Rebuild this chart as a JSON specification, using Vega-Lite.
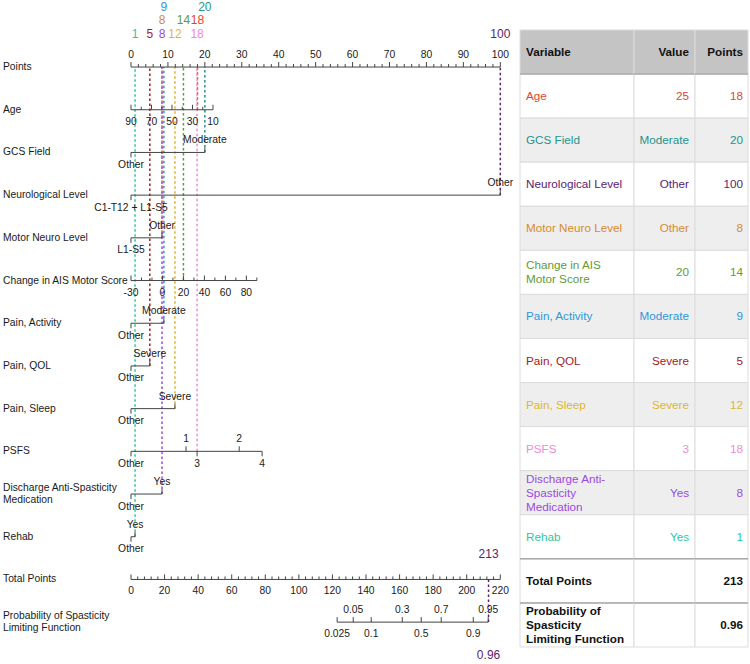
{
"$schema": "https://vega.github.io/schema/vega-lite/v6.json",
"padding": 0,
"bounds": "flush",
"spacing": 5,
"config": {"view": {"stroke": null}, "font": "Liberation Sans"},
"datasets": {
"rowlabels": [
{"row":"Points","label":"Points"},{"row":"Age","label":"Age"},{"row":"GCS Field","label":"GCS Field"},{"row":"Neurological Level","label":"Neurological Level"},{"row":"Motor Neuro Level","label":"Motor Neuro Level"},{"row":"Change in AIS Motor Score","label":"Change in AIS Motor Score"},{"row":"Pain, Activity","label":"Pain, Activity"},{"row":"Pain, QOL","label":"Pain, QOL"},{"row":"Pain, Sleep","label":"Pain, Sleep"},{"row":"PSFS","label":"PSFS"},{"row":"Discharge Anti-Spasticity Medication","label":"Discharge Anti-Spasticity\nMedication"},{"row":"Rehab","label":"Rehab"},{"row":"Total Points","label":"Total Points"},{"row":"Probability of Spasticity Limiting Function","label":"Probability of Spasticity\nLimiting Function"}],
"tab": [
{"idx":0,"variable":"Variable","label":"Variable","value":"Value","points":"Points"},
{"idx":1,"variable":"Age","label":"Age","value":"25","points":"18","pts":18.0,"tier":2},
{"idx":2,"variable":"GCS Field","label":"GCS Field","value":"Moderate","points":"20","pts":20.0,"tier":3},
{"idx":3,"variable":"Neurological Level","label":"Neurological Level","value":"Other","points":"100","pts":100,"tier":1},
{"idx":4,"variable":"Motor Neuro Level","label":"Motor Neuro Level","value":"Other","points":"8","pts":8.4,"tier":2},
{"idx":5,"variable":"Change in AIS Motor Score","label":"Change in AIS\nMotor Score","value":"20","points":"14","pts":14.2,"tier":2},
{"idx":6,"variable":"Pain, Activity","label":"Pain, Activity","value":"Moderate","points":"9","pts":8.9,"tier":3},
{"idx":7,"variable":"Pain, QOL","label":"Pain, QOL","value":"Severe","points":"5","pts":5.1,"tier":1},
{"idx":8,"variable":"Pain, Sleep","label":"Pain, Sleep","value":"Severe","points":"12","pts":11.9,"tier":1},
{"idx":9,"variable":"PSFS","label":"PSFS","value":"3","points":"18","pts":17.9,"tier":1},
{"idx":10,"variable":"Discharge Anti-Spasticity Medication","label":"Discharge Anti-\nSpasticity\nMedication","value":"Yes","points":"8","pts":8.4,"tier":1},
{"idx":11,"variable":"Rehab","label":"Rehab","value":"Yes","points":"1","pts":1.1,"tier":1},
{"idx":12,"variable":"Total Points","label":"Total Points","value":"","points":"213"},
{"idx":13,"variable":"Probability of Spasticity Limiting Function","label":"Probability of\nSpasticity\nLimiting Function","value":"","points":"0.96"}],
"result": [{"total":213,"prob":"0.96"}],
"ticks": [
{"row":"Points","pts":0,"label":"0","side":"top"},{"row":"Points","pts":2,"label":""},{"row":"Points","pts":4,"label":""},{"row":"Points","pts":6,"label":""},{"row":"Points","pts":8,"label":""},
{"row":"Points","pts":10,"label":"10","side":"top"},{"row":"Points","pts":12,"label":""},{"row":"Points","pts":14,"label":""},{"row":"Points","pts":16,"label":""},{"row":"Points","pts":18,"label":""},
{"row":"Points","pts":20,"label":"20","side":"top"},{"row":"Points","pts":22,"label":""},{"row":"Points","pts":24,"label":""},{"row":"Points","pts":26,"label":""},{"row":"Points","pts":28,"label":""},
{"row":"Points","pts":30,"label":"30","side":"top"},{"row":"Points","pts":32,"label":""},{"row":"Points","pts":34,"label":""},{"row":"Points","pts":36,"label":""},{"row":"Points","pts":38,"label":""},
{"row":"Points","pts":40,"label":"40","side":"top"},{"row":"Points","pts":42,"label":""},{"row":"Points","pts":44,"label":""},{"row":"Points","pts":46,"label":""},{"row":"Points","pts":48,"label":""},
{"row":"Points","pts":50,"label":"50","side":"top"},{"row":"Points","pts":52,"label":""},{"row":"Points","pts":54,"label":""},{"row":"Points","pts":56,"label":""},{"row":"Points","pts":58,"label":""},
{"row":"Points","pts":60,"label":"60","side":"top"},{"row":"Points","pts":62,"label":""},{"row":"Points","pts":64,"label":""},{"row":"Points","pts":66,"label":""},{"row":"Points","pts":68,"label":""},
{"row":"Points","pts":70,"label":"70","side":"top"},{"row":"Points","pts":72,"label":""},{"row":"Points","pts":74,"label":""},{"row":"Points","pts":76,"label":""},{"row":"Points","pts":78,"label":""},
{"row":"Points","pts":80,"label":"80","side":"top"},{"row":"Points","pts":82,"label":""},{"row":"Points","pts":84,"label":""},{"row":"Points","pts":86,"label":""},{"row":"Points","pts":88,"label":""},
{"row":"Points","pts":90,"label":"90","side":"top"},{"row":"Points","pts":92,"label":""},{"row":"Points","pts":94,"label":""},{"row":"Points","pts":96,"label":""},{"row":"Points","pts":98,"label":""},
{"row":"Points","pts":100,"label":"100","side":"top"},
{"row":"Age","pts":0,"label":"90","side":"bottom"},{"row":"Age","pts":2.78,"label":""},{"row":"Age","pts":5.55,"label":"70","side":"bottom"},{"row":"Age","pts":8.33,"label":""},{"row":"Age","pts":11.1,"label":"50","side":"bottom"},{"row":"Age","pts":13.88,"label":""},{"row":"Age","pts":16.65,"label":"30","side":"bottom"},{"row":"Age","pts":19.43,"label":""},{"row":"Age","pts":22.2,"label":"10","side":"bottom"},
{"row":"GCS Field","pts":0,"label":"Other","side":"bottom"},{"row":"GCS Field","pts":20,"label":"Moderate","side":"top"},
{"row":"Neurological Level","pts":0,"label":"C1-T12 + L1-S5","side":"bottom"},{"row":"Neurological Level","pts":100,"label":"Other","side":"top"},
{"row":"Motor Neuro Level","pts":0,"label":"L1-S5","side":"bottom"},{"row":"Motor Neuro Level","pts":8.4,"label":"Other","side":"top"},
{"row":"Change in AIS Motor Score","pts":0,"label":"-30","side":"bottom"},{"row":"Change in AIS Motor Score","pts":2.84,"label":""},{"row":"Change in AIS Motor Score","pts":5.68,"label":""},{"row":"Change in AIS Motor Score","pts":8.52,"label":"0","side":"bottom"},{"row":"Change in AIS Motor Score","pts":11.36,"label":""},{"row":"Change in AIS Motor Score","pts":14.2,"label":"20","side":"bottom"},{"row":"Change in AIS Motor Score","pts":17.04,"label":""},{"row":"Change in AIS Motor Score","pts":19.88,"label":"40","side":"bottom"},{"row":"Change in AIS Motor Score","pts":22.72,"label":""},{"row":"Change in AIS Motor Score","pts":25.56,"label":"60","side":"bottom"},{"row":"Change in AIS Motor Score","pts":28.4,"label":""},{"row":"Change in AIS Motor Score","pts":31.24,"label":"80","side":"bottom"},{"row":"Change in AIS Motor Score","pts":34.08,"label":""},
{"row":"Pain, Activity","pts":0,"label":"Other","side":"bottom"},{"row":"Pain, Activity","pts":8.9,"label":"Moderate","side":"top"},
{"row":"Pain, QOL","pts":0,"label":"Other","side":"bottom"},{"row":"Pain, QOL","pts":5.1,"label":"Severe","side":"top"},
{"row":"Pain, Sleep","pts":0,"label":"Other","side":"bottom"},{"row":"Pain, Sleep","pts":11.9,"label":"Severe","side":"top"},
{"row":"PSFS","pts":0,"label":"Other","side":"bottom"},{"row":"PSFS","pts":14.9,"label":"1","side":"top"},{"row":"PSFS","pts":17.9,"label":"3","side":"bottom"},{"row":"PSFS","pts":29.3,"label":"2","side":"top"},{"row":"PSFS","pts":35.5,"label":"4","side":"bottom"},
{"row":"Discharge Anti-Spasticity Medication","pts":0,"label":"Other","side":"bottom"},{"row":"Discharge Anti-Spasticity Medication","pts":8.4,"label":"Yes","side":"top"},
{"row":"Rehab","pts":0,"label":"Other","side":"bottom"},{"row":"Rehab","pts":1.1,"label":"Yes","side":"top"}],
"tticks": [
{"row":"Total Points","total":0,"label":"0","side":"bottom"},{"row":"Total Points","total":4,"label":""},{"row":"Total Points","total":8,"label":""},{"row":"Total Points","total":12,"label":""},{"row":"Total Points","total":16,"label":""},
{"row":"Total Points","total":20,"label":"20","side":"bottom"},{"row":"Total Points","total":24,"label":""},{"row":"Total Points","total":28,"label":""},{"row":"Total Points","total":32,"label":""},{"row":"Total Points","total":36,"label":""},
{"row":"Total Points","total":40,"label":"40","side":"bottom"},{"row":"Total Points","total":44,"label":""},{"row":"Total Points","total":48,"label":""},{"row":"Total Points","total":52,"label":""},{"row":"Total Points","total":56,"label":""},
{"row":"Total Points","total":60,"label":"60","side":"bottom"},{"row":"Total Points","total":64,"label":""},{"row":"Total Points","total":68,"label":""},{"row":"Total Points","total":72,"label":""},{"row":"Total Points","total":76,"label":""},
{"row":"Total Points","total":80,"label":"80","side":"bottom"},{"row":"Total Points","total":84,"label":""},{"row":"Total Points","total":88,"label":""},{"row":"Total Points","total":92,"label":""},{"row":"Total Points","total":96,"label":""},
{"row":"Total Points","total":100,"label":"100","side":"bottom"},{"row":"Total Points","total":104,"label":""},{"row":"Total Points","total":108,"label":""},{"row":"Total Points","total":112,"label":""},{"row":"Total Points","total":116,"label":""},
{"row":"Total Points","total":120,"label":"120","side":"bottom"},{"row":"Total Points","total":124,"label":""},{"row":"Total Points","total":128,"label":""},{"row":"Total Points","total":132,"label":""},{"row":"Total Points","total":136,"label":""},
{"row":"Total Points","total":140,"label":"140","side":"bottom"},{"row":"Total Points","total":144,"label":""},{"row":"Total Points","total":148,"label":""},{"row":"Total Points","total":152,"label":""},{"row":"Total Points","total":156,"label":""},
{"row":"Total Points","total":160,"label":"160","side":"bottom"},{"row":"Total Points","total":164,"label":""},{"row":"Total Points","total":168,"label":""},{"row":"Total Points","total":172,"label":""},{"row":"Total Points","total":176,"label":""},
{"row":"Total Points","total":180,"label":"180","side":"bottom"},{"row":"Total Points","total":184,"label":""},{"row":"Total Points","total":188,"label":""},{"row":"Total Points","total":192,"label":""},{"row":"Total Points","total":196,"label":""},
{"row":"Total Points","total":200,"label":"200","side":"bottom"},{"row":"Total Points","total":204,"label":""},{"row":"Total Points","total":208,"label":""},{"row":"Total Points","total":212,"label":""},{"row":"Total Points","total":216,"label":""},
{"row":"Total Points","total":220,"label":"220","side":"bottom"},
{"row":"Probability of Spasticity Limiting Function","total":122.8,"label":"0.025","side":"bottom"},
{"row":"Probability of Spasticity Limiting Function","total":132.4,"label":"0.05","side":"top"},
{"row":"Probability of Spasticity Limiting Function","total":143.1,"label":"0.1","side":"bottom"},
{"row":"Probability of Spasticity Limiting Function","total":161.6,"label":"0.3","side":"top"},
{"row":"Probability of Spasticity Limiting Function","total":172.9,"label":"0.5","side":"bottom"},
{"row":"Probability of Spasticity Limiting Function","total":184.8,"label":"0.7","side":"top"},
{"row":"Probability of Spasticity Limiting Function","total":203.9,"label":"0.9","side":"bottom"},
{"row":"Probability of Spasticity Limiting Function","total":212.8,"label":"0.95","side":"top"}]
},
"hconcat": [
{
"width": 515, "height": 640.5,
"resolve": {"scale": {"x": "independent"}},
"layer": [
{"data":{"name":"rowlabels"},"transform":[{"filter":"indexof(datum.label, '\\n') < 0"}],"mark":{"type":"text","align":"left","baseline":"middle","dx":3,"fontSize":10.3,"color":"#1a1a1a"},
 "encoding":{"x":{"datum":-35.47,"type":"quantitative","scale":{"domain":[-35.47,103.98],"nice":false,"zero":false},"axis":null},
 "y":{"field":"row","type":"nominal","scale":{"type":"point","domain":["Points","Age","GCS Field","Neurological Level","Motor Neuro Level","Change in AIS Motor Score","Pain, Activity","Pain, QOL","Pain, Sleep","PSFS","Discharge Anti-Spasticity Medication","Rehab","Total Points","Probability of Spasticity Limiting Function"],"padding":1,"align":0.785},"axis":null},
 "text":{"field":"label"}}},
{"data":{"name":"rowlabels"},"transform":[{"filter":"indexof(datum.label, '\\n') >= 0"}],"mark":{"type":"text","align":"left","baseline":"middle","dx":3,"dy":-6,"fontSize":10.3,"lineBreak":"\n","lineHeight":12,"color":"#1a1a1a"},
 "encoding":{"x":{"datum":-35.47,"type":"quantitative","scale":{"domain":[-35.47,103.98],"nice":false,"zero":false},"axis":null},
 "y":{"field":"row","type":"nominal","scale":{"type":"point","domain":["Points","Age","GCS Field","Neurological Level","Motor Neuro Level","Change in AIS Motor Score","Pain, Activity","Pain, QOL","Pain, Sleep","PSFS","Discharge Anti-Spasticity Medication","Rehab","Total Points","Probability of Spasticity Limiting Function"],"padding":1,"align":0.785},"axis":null},
 "text":{"field":"label"}}},
{"data":{"name":"tab"},"transform":[{"filter":"datum.pts != null"}],"mark":{"type":"rule","strokeDash":[2.5,2.5],"strokeWidth":1.5},
 "encoding":{"x":{"field":"pts","type":"quantitative","scale":{"domain":[-35.47,103.98],"nice":false,"zero":false},"axis":null},
 "y":{"field":"variable","type":"nominal","scale":{"type":"point","domain":["Points","Age","GCS Field","Neurological Level","Motor Neuro Level","Change in AIS Motor Score","Pain, Activity","Pain, QOL","Pain, Sleep","PSFS","Discharge Anti-Spasticity Medication","Rehab","Total Points","Probability of Spasticity Limiting Function"],"padding":1,"align":0.785},"axis":null},
 "y2":{"datum":"Points"},
 "color":{"field":"variable","type":"nominal","scale":{"domain":["Age","GCS Field","Neurological Level","Motor Neuro Level","Change in AIS Motor Score","Pain, Activity","Pain, QOL","Pain, Sleep","PSFS","Discharge Anti-Spasticity Medication","Rehab"],"range":["#E2452F","#23948E","#5A2372","#D88B2F","#5F9B37","#2F97DB","#A3201F","#DDB632","#EE8CD6","#9A4AE2","#2DC8A2"]},"legend":null}}},
{"data":{"name":"ticks"},"mark":{"type":"rule","color":"#444444","strokeWidth":1},
 "encoding":{"x":{"aggregate":"min","field":"pts","type":"quantitative","scale":{"domain":[-35.47,103.98],"nice":false,"zero":false},"axis":null},
 "x2":{"aggregate":"max","field":"pts"},
 "y":{"field":"row","type":"nominal","scale":{"type":"point","domain":["Points","Age","GCS Field","Neurological Level","Motor Neuro Level","Change in AIS Motor Score","Pain, Activity","Pain, QOL","Pain, Sleep","PSFS","Discharge Anti-Spasticity Medication","Rehab","Total Points","Probability of Spasticity Limiting Function"],"padding":1,"align":0.785},"axis":null}}},
{"data":{"name":"ticks"},"transform":[{"filter":"datum.label != '' && (datum.side == 'top' || indexof(['Points','Age','Change in AIS Motor Score'], datum.row) >= 0)"}],
 "mark":{"type":"point","shape":"M0,0L0,-2","size":25,"filled":false,"color":"#444444","strokeWidth":1,"opacity":1},
 "encoding":{"x":{"field":"pts","type":"quantitative","scale":{"domain":[-35.47,103.98],"nice":false,"zero":false},"axis":null},
 "y":{"field":"row","type":"nominal","scale":{"type":"point","domain":["Points","Age","GCS Field","Neurological Level","Motor Neuro Level","Change in AIS Motor Score","Pain, Activity","Pain, QOL","Pain, Sleep","PSFS","Discharge Anti-Spasticity Medication","Rehab","Total Points","Probability of Spasticity Limiting Function"],"padding":1,"align":0.785},"axis":null}}},
{"data":{"name":"ticks"},"transform":[{"filter":"datum.label != '' && datum.side == 'bottom' && indexof(['Points','Age','Change in AIS Motor Score'], datum.row) < 0"}],
 "mark":{"type":"point","shape":"M0,0L0,2","size":25,"filled":false,"color":"#444444","strokeWidth":1,"opacity":1},
 "encoding":{"x":{"field":"pts","type":"quantitative","scale":{"domain":[-35.47,103.98],"nice":false,"zero":false},"axis":null},
 "y":{"field":"row","type":"nominal","scale":{"type":"point","domain":["Points","Age","GCS Field","Neurological Level","Motor Neuro Level","Change in AIS Motor Score","Pain, Activity","Pain, QOL","Pain, Sleep","PSFS","Discharge Anti-Spasticity Medication","Rehab","Total Points","Probability of Spasticity Limiting Function"],"padding":1,"align":0.785},"axis":null}}},
{"data":{"name":"ticks"},"transform":[{"filter":"datum.label == ''"}],
 "mark":{"type":"point","shape":"M0,0L0,-2","size":9,"filled":false,"color":"#444444","strokeWidth":1,"opacity":1},
 "encoding":{"x":{"field":"pts","type":"quantitative","scale":{"domain":[-35.47,103.98],"nice":false,"zero":false},"axis":null},
 "y":{"field":"row","type":"nominal","scale":{"type":"point","domain":["Points","Age","GCS Field","Neurological Level","Motor Neuro Level","Change in AIS Motor Score","Pain, Activity","Pain, QOL","Pain, Sleep","PSFS","Discharge Anti-Spasticity Medication","Rehab","Total Points","Probability of Spasticity Limiting Function"],"padding":1,"align":0.785},"axis":null}}},
{"data":{"name":"ticks"},"transform":[{"filter":"datum.label != '' && datum.side == 'top'"}],
 "mark":{"type":"text","baseline":"middle","dy":-12,"fontSize":10.3,"color":"#1a1a1a"},
 "encoding":{"x":{"field":"pts","type":"quantitative","scale":{"domain":[-35.47,103.98],"nice":false,"zero":false},"axis":null},
 "y":{"field":"row","type":"nominal","scale":{"type":"point","domain":["Points","Age","GCS Field","Neurological Level","Motor Neuro Level","Change in AIS Motor Score","Pain, Activity","Pain, QOL","Pain, Sleep","PSFS","Discharge Anti-Spasticity Medication","Rehab","Total Points","Probability of Spasticity Limiting Function"],"padding":1,"align":0.785},"axis":null},
 "text":{"field":"label"}}},
{"data":{"name":"ticks"},"transform":[{"filter":"datum.label != '' && datum.side == 'bottom'"}],
 "mark":{"type":"text","baseline":"middle","dy":12.5,"fontSize":10.3,"color":"#1a1a1a"},
 "encoding":{"x":{"field":"pts","type":"quantitative","scale":{"domain":[-35.47,103.98],"nice":false,"zero":false},"axis":null},
 "y":{"field":"row","type":"nominal","scale":{"type":"point","domain":["Points","Age","GCS Field","Neurological Level","Motor Neuro Level","Change in AIS Motor Score","Pain, Activity","Pain, QOL","Pain, Sleep","PSFS","Discharge Anti-Spasticity Medication","Rehab","Total Points","Probability of Spasticity Limiting Function"],"padding":1,"align":0.785},"axis":null},
 "text":{"field":"label"}}},
{"data":{"name":"tticks"},"mark":{"type":"rule","color":"#444444","strokeWidth":1},
 "encoding":{"x":{"aggregate":"min","field":"total","type":"quantitative","scale":{"domain":[-78.04,228.76],"nice":false,"zero":false},"axis":null},
 "x2":{"aggregate":"max","field":"total"},
 "y":{"field":"row","type":"nominal","scale":{"type":"point","domain":["Points","Age","GCS Field","Neurological Level","Motor Neuro Level","Change in AIS Motor Score","Pain, Activity","Pain, QOL","Pain, Sleep","PSFS","Discharge Anti-Spasticity Medication","Rehab","Total Points","Probability of Spasticity Limiting Function"],"padding":1,"align":0.785},"axis":null}}},
{"data":{"name":"tticks"},"transform":[{"filter":"datum.label != ''"}],
 "mark":{"type":"point","shape":"M0,0L0,-2","size":25,"filled":false,"color":"#444444","strokeWidth":1,"opacity":1},
 "encoding":{"x":{"field":"total","type":"quantitative","scale":{"domain":[-78.04,228.76],"nice":false,"zero":false},"axis":null},
 "y":{"field":"row","type":"nominal","scale":{"type":"point","domain":["Points","Age","GCS Field","Neurological Level","Motor Neuro Level","Change in AIS Motor Score","Pain, Activity","Pain, QOL","Pain, Sleep","PSFS","Discharge Anti-Spasticity Medication","Rehab","Total Points","Probability of Spasticity Limiting Function"],"padding":1,"align":0.785},"axis":null}}},
{"data":{"name":"tticks"},"transform":[{"filter":"datum.label == ''"}],
 "mark":{"type":"point","shape":"M0,0L0,-2","size":9,"filled":false,"color":"#444444","strokeWidth":1,"opacity":1},
 "encoding":{"x":{"field":"total","type":"quantitative","scale":{"domain":[-78.04,228.76],"nice":false,"zero":false},"axis":null},
 "y":{"field":"row","type":"nominal","scale":{"type":"point","domain":["Points","Age","GCS Field","Neurological Level","Motor Neuro Level","Change in AIS Motor Score","Pain, Activity","Pain, QOL","Pain, Sleep","PSFS","Discharge Anti-Spasticity Medication","Rehab","Total Points","Probability of Spasticity Limiting Function"],"padding":1,"align":0.785},"axis":null}}},
{"data":{"name":"tticks"},"transform":[{"filter":"datum.label != '' && datum.side == 'top'"}],
 "mark":{"type":"text","baseline":"middle","dy":-12,"fontSize":10.3,"color":"#1a1a1a"},
 "encoding":{"x":{"field":"total","type":"quantitative","scale":{"domain":[-78.04,228.76],"nice":false,"zero":false},"axis":null},
 "y":{"field":"row","type":"nominal","scale":{"type":"point","domain":["Points","Age","GCS Field","Neurological Level","Motor Neuro Level","Change in AIS Motor Score","Pain, Activity","Pain, QOL","Pain, Sleep","PSFS","Discharge Anti-Spasticity Medication","Rehab","Total Points","Probability of Spasticity Limiting Function"],"padding":1,"align":0.785},"axis":null},
 "text":{"field":"label"}}},
{"data":{"name":"tticks"},"transform":[{"filter":"datum.label != '' && datum.side == 'bottom'"}],
 "mark":{"type":"text","baseline":"middle","dy":11.5,"fontSize":10.3,"color":"#1a1a1a"},
 "encoding":{"x":{"field":"total","type":"quantitative","scale":{"domain":[-78.04,228.76],"nice":false,"zero":false},"axis":null},
 "y":{"field":"row","type":"nominal","scale":{"type":"point","domain":["Points","Age","GCS Field","Neurological Level","Motor Neuro Level","Change in AIS Motor Score","Pain, Activity","Pain, QOL","Pain, Sleep","PSFS","Discharge Anti-Spasticity Medication","Rehab","Total Points","Probability of Spasticity Limiting Function"],"padding":1,"align":0.785},"axis":null},
 "text":{"field":"label"}}},
{"data":{"name":"tab"},"transform":[{"filter":"datum.tier == 1"}],
 "mark":{"type":"text","baseline":"middle","dy":-33,"fontSize":12},
 "encoding":{"x":{"field":"pts","type":"quantitative","scale":{"domain":[-35.47,103.98],"nice":false,"zero":false},"axis":null},
 "y":{"datum":"Points","type":"nominal","scale":{"type":"point","domain":["Points","Age","GCS Field","Neurological Level","Motor Neuro Level","Change in AIS Motor Score","Pain, Activity","Pain, QOL","Pain, Sleep","PSFS","Discharge Anti-Spasticity Medication","Rehab","Total Points","Probability of Spasticity Limiting Function"],"padding":1,"align":0.785},"axis":null},
 "text":{"field":"points"},
 "color":{"field":"variable","type":"nominal","scale":{"domain":["Age","GCS Field","Neurological Level","Motor Neuro Level","Change in AIS Motor Score","Pain, Activity","Pain, QOL","Pain, Sleep","PSFS","Discharge Anti-Spasticity Medication","Rehab"],"range":["#E2452F","#23948E","#5A2372","#D88B2F","#5F9B37","#2F97DB","#A3201F","#DDB632","#EE8CD6","#9A4AE2","#2DC8A2"]},"legend":null}}},
{"data":{"name":"tab"},"transform":[{"filter":"datum.tier == 2"}],
 "mark":{"type":"text","baseline":"middle","dy":-47,"fontSize":12},
 "encoding":{"x":{"field":"pts","type":"quantitative","scale":{"domain":[-35.47,103.98],"nice":false,"zero":false},"axis":null},
 "y":{"datum":"Points","type":"nominal","scale":{"type":"point","domain":["Points","Age","GCS Field","Neurological Level","Motor Neuro Level","Change in AIS Motor Score","Pain, Activity","Pain, QOL","Pain, Sleep","PSFS","Discharge Anti-Spasticity Medication","Rehab","Total Points","Probability of Spasticity Limiting Function"],"padding":1,"align":0.785},"axis":null},
 "text":{"field":"points"},
 "color":{"field":"variable","type":"nominal","scale":{"domain":["Age","GCS Field","Neurological Level","Motor Neuro Level","Change in AIS Motor Score","Pain, Activity","Pain, QOL","Pain, Sleep","PSFS","Discharge Anti-Spasticity Medication","Rehab"],"range":["#E2452F","#23948E","#5A2372","#D88B2F","#5F9B37","#2F97DB","#A3201F","#DDB632","#EE8CD6","#9A4AE2","#2DC8A2"]},"legend":null}}},
{"data":{"name":"tab"},"transform":[{"filter":"datum.tier == 3"}],
 "mark":{"type":"text","baseline":"middle","dy":-60,"fontSize":12},
 "encoding":{"x":{"field":"pts","type":"quantitative","scale":{"domain":[-35.47,103.98],"nice":false,"zero":false},"axis":null},
 "y":{"datum":"Points","type":"nominal","scale":{"type":"point","domain":["Points","Age","GCS Field","Neurological Level","Motor Neuro Level","Change in AIS Motor Score","Pain, Activity","Pain, QOL","Pain, Sleep","PSFS","Discharge Anti-Spasticity Medication","Rehab","Total Points","Probability of Spasticity Limiting Function"],"padding":1,"align":0.785},"axis":null},
 "text":{"field":"points"},
 "color":{"field":"variable","type":"nominal","scale":{"domain":["Age","GCS Field","Neurological Level","Motor Neuro Level","Change in AIS Motor Score","Pain, Activity","Pain, QOL","Pain, Sleep","PSFS","Discharge Anti-Spasticity Medication","Rehab"],"range":["#E2452F","#23948E","#5A2372","#D88B2F","#5F9B37","#2F97DB","#A3201F","#DDB632","#EE8CD6","#9A4AE2","#2DC8A2"]},"legend":null}}},
{"data":{"name":"result"},"mark":{"type":"rule","strokeDash":[2.5,2.5],"strokeWidth":1.5,"color":"#5A2372"},
 "encoding":{"x":{"field":"total","type":"quantitative","scale":{"domain":[-78.04,228.76],"nice":false,"zero":false},"axis":null},
 "y":{"datum":"Total Points","type":"nominal","scale":{"type":"point","domain":["Points","Age","GCS Field","Neurological Level","Motor Neuro Level","Change in AIS Motor Score","Pain, Activity","Pain, QOL","Pain, Sleep","PSFS","Discharge Anti-Spasticity Medication","Rehab","Total Points","Probability of Spasticity Limiting Function"],"padding":1,"align":0.785},"axis":null},
 "y2":{"datum":"Probability of Spasticity Limiting Function"}}},
{"data":{"name":"result"},"mark":{"type":"text","baseline":"middle","dy":-25,"fontSize":12,"color":"#5A2372"},
 "encoding":{"x":{"field":"total","type":"quantitative","scale":{"domain":[-78.04,228.76],"nice":false,"zero":false},"axis":null},
 "y":{"datum":"Total Points","type":"nominal","scale":{"type":"point","domain":["Points","Age","GCS Field","Neurological Level","Motor Neuro Level","Change in AIS Motor Score","Pain, Activity","Pain, QOL","Pain, Sleep","PSFS","Discharge Anti-Spasticity Medication","Rehab","Total Points","Probability of Spasticity Limiting Function"],"padding":1,"align":0.785},"axis":null},
 "text":{"field":"total"}}},
{"data":{"name":"result"},"mark":{"type":"text","baseline":"middle","dy":33,"fontSize":12,"color":"#5A2372"},
 "encoding":{"x":{"field":"total","type":"quantitative","scale":{"domain":[-78.04,228.76],"nice":false,"zero":false},"axis":null},
 "y":{"datum":"Probability of Spasticity Limiting Function","type":"nominal","scale":{"type":"point","domain":["Points","Age","GCS Field","Neurological Level","Motor Neuro Level","Change in AIS Motor Score","Pain, Activity","Pain, QOL","Pain, Sleep","PSFS","Discharge Anti-Spasticity Medication","Rehab","Total Points","Probability of Spasticity Limiting Function"],"padding":1,"align":0.785},"axis":null},
 "text":{"field":"prob"}}}
]
},
{
"hconcat": [
{
"width": 114, "height": 664,
"data": {"name": "tab"},
"layer": [
{"mark":{"type":"rect","stroke":"#DCDCDC","strokeWidth":1},
 "encoding":{"x":{"datum":0,"type":"quantitative","scale":{"domain":[0,1]},"axis":null},"x2":{"datum":1},
 "y":{"field":"idx","type":"ordinal","scale":{"type":"band","domain":[0,1,2,3,4,5,6,7,8,9,10,11,12,13],"paddingInner":0,"paddingOuter":0.533,"align":0.638},"axis":null},
 "fill":{"condition":[{"test":"datum.idx == 0","value":"#C4C4C4"},{"test":"datum.idx % 2 == 0 && datum.idx <= 10","value":"#EEEEEE"}],"value":"#FFFFFF"}}},
{"transform":[{"filter":"datum.idx == 1 || datum.idx == 12 || datum.idx == 13"}],"mark":{"type":"rule","color":"#A8A8A8","strokeWidth":1.5},
 "encoding":{"x":{"datum":0,"type":"quantitative","scale":{"domain":[0,1]},"axis":null},"x2":{"datum":1},
 "y":{"field":"idx","type":"ordinal","bandPosition":0,"scale":{"type":"band","domain":[0,1,2,3,4,5,6,7,8,9,10,11,12,13],"paddingInner":0,"paddingOuter":0.533,"align":0.638},"axis":null}}},
{"transform":[{"filter":"datum.idx == 0 || datum.idx == 12"}],"mark":{"type":"text","align":"left","baseline":"middle","dx":6,"fontSize":11.7,"fontWeight":"bold","color":"#111111"},
 "encoding":{"x":{"datum":0,"type":"quantitative","scale":{"domain":[0,1]},"axis":null},
 "y":{"field":"idx","type":"ordinal","scale":{"type":"band","domain":[0,1,2,3,4,5,6,7,8,9,10,11,12,13],"paddingInner":0,"paddingOuter":0.533,"align":0.638},"axis":null},
 "text":{"field":"label"}}},
{"transform":[{"filter":"datum.idx == 13"}],"mark":{"type":"text","align":"left","baseline":"middle","dx":6,"dy":-14,"fontSize":11.7,"fontWeight":"bold","lineBreak":"\n","lineHeight":14,"color":"#111111"},
 "encoding":{"x":{"datum":0,"type":"quantitative","scale":{"domain":[0,1]},"axis":null},
 "y":{"field":"idx","type":"ordinal","scale":{"type":"band","domain":[0,1,2,3,4,5,6,7,8,9,10,11,12,13],"paddingInner":0,"paddingOuter":0.533,"align":0.638},"axis":null},
 "text":{"field":"label"}}},
{"transform":[{"filter":"datum.idx >= 1 && datum.idx <= 11 && datum.idx != 5 && datum.idx != 10"}],"mark":{"type":"text","align":"left","baseline":"middle","dx":6,"fontSize":11.7},
 "encoding":{"x":{"datum":0,"type":"quantitative","scale":{"domain":[0,1]},"axis":null},
 "y":{"field":"idx","type":"ordinal","scale":{"type":"band","domain":[0,1,2,3,4,5,6,7,8,9,10,11,12,13],"paddingInner":0,"paddingOuter":0.533,"align":0.638},"axis":null},
 "text":{"field":"label"},
 "color":{"field":"variable","type":"nominal","scale":{"domain":["Age","GCS Field","Neurological Level","Motor Neuro Level","Change in AIS Motor Score","Pain, Activity","Pain, QOL","Pain, Sleep","PSFS","Discharge Anti-Spasticity Medication","Rehab"],"range":["#E2452F","#23948E","#5A2372","#D88B2F","#5F9B37","#2F97DB","#A3201F","#DDB632","#EE8CD6","#9A4AE2","#2DC8A2"]},"legend":null}}},
{"transform":[{"filter":"datum.idx == 5"}],"mark":{"type":"text","align":"left","baseline":"middle","dx":6,"dy":-7,"fontSize":11.7,"lineBreak":"\n","lineHeight":14},
 "encoding":{"x":{"datum":0,"type":"quantitative","scale":{"domain":[0,1]},"axis":null},
 "y":{"field":"idx","type":"ordinal","scale":{"type":"band","domain":[0,1,2,3,4,5,6,7,8,9,10,11,12,13],"paddingInner":0,"paddingOuter":0.533,"align":0.638},"axis":null},
 "text":{"field":"label"},
 "color":{"field":"variable","type":"nominal","scale":{"domain":["Age","GCS Field","Neurological Level","Motor Neuro Level","Change in AIS Motor Score","Pain, Activity","Pain, QOL","Pain, Sleep","PSFS","Discharge Anti-Spasticity Medication","Rehab"],"range":["#E2452F","#23948E","#5A2372","#D88B2F","#5F9B37","#2F97DB","#A3201F","#DDB632","#EE8CD6","#9A4AE2","#2DC8A2"]},"legend":null}}},
{"transform":[{"filter":"datum.idx == 10"}],"mark":{"type":"text","align":"left","baseline":"middle","dx":6,"dy":-14,"fontSize":11.7,"lineBreak":"\n","lineHeight":14},
 "encoding":{"x":{"datum":0,"type":"quantitative","scale":{"domain":[0,1]},"axis":null},
 "y":{"field":"idx","type":"ordinal","scale":{"type":"band","domain":[0,1,2,3,4,5,6,7,8,9,10,11,12,13],"paddingInner":0,"paddingOuter":0.533,"align":0.638},"axis":null},
 "text":{"field":"label"},
 "color":{"field":"variable","type":"nominal","scale":{"domain":["Age","GCS Field","Neurological Level","Motor Neuro Level","Change in AIS Motor Score","Pain, Activity","Pain, QOL","Pain, Sleep","PSFS","Discharge Anti-Spasticity Medication","Rehab"],"range":["#E2452F","#23948E","#5A2372","#D88B2F","#5F9B37","#2F97DB","#A3201F","#DDB632","#EE8CD6","#9A4AE2","#2DC8A2"]},"legend":null}}}
]
},
{
"width": 61, "height": 664,
"data": {"name": "tab"},
"layer": [
{"mark":{"type":"rect","stroke":"#DCDCDC","strokeWidth":1},
 "encoding":{"x":{"datum":0,"type":"quantitative","scale":{"domain":[0,1]},"axis":null},"x2":{"datum":1},
 "y":{"field":"idx","type":"ordinal","scale":{"type":"band","domain":[0,1,2,3,4,5,6,7,8,9,10,11,12,13],"paddingInner":0,"paddingOuter":0.533,"align":0.638},"axis":null},
 "fill":{"condition":[{"test":"datum.idx == 0","value":"#C4C4C4"},{"test":"datum.idx % 2 == 0 && datum.idx <= 10","value":"#EEEEEE"}],"value":"#FFFFFF"}}},
{"transform":[{"filter":"datum.idx == 1 || datum.idx == 12 || datum.idx == 13"}],"mark":{"type":"rule","color":"#A8A8A8","strokeWidth":1.5},
 "encoding":{"x":{"datum":0,"type":"quantitative","scale":{"domain":[0,1]},"axis":null},"x2":{"datum":1},
 "y":{"field":"idx","type":"ordinal","bandPosition":0,"scale":{"type":"band","domain":[0,1,2,3,4,5,6,7,8,9,10,11,12,13],"paddingInner":0,"paddingOuter":0.533,"align":0.638},"axis":null}}},
{"transform":[{"filter":"datum.idx == 0 || datum.idx >= 12"}],"mark":{"type":"text","align":"right","baseline":"middle","dx":-6,"fontSize":11.7,"fontWeight":"bold","color":"#111111"},
 "encoding":{"x":{"datum":1,"type":"quantitative","scale":{"domain":[0,1]},"axis":null},
 "y":{"field":"idx","type":"ordinal","scale":{"type":"band","domain":[0,1,2,3,4,5,6,7,8,9,10,11,12,13],"paddingInner":0,"paddingOuter":0.533,"align":0.638},"axis":null},
 "text":{"field":"value"}}},
{"transform":[{"filter":"datum.idx >= 1 && datum.idx <= 11"}],"mark":{"type":"text","align":"right","baseline":"middle","dx":-6,"fontSize":11.7},
 "encoding":{"x":{"datum":1,"type":"quantitative","scale":{"domain":[0,1]},"axis":null},
 "y":{"field":"idx","type":"ordinal","scale":{"type":"band","domain":[0,1,2,3,4,5,6,7,8,9,10,11,12,13],"paddingInner":0,"paddingOuter":0.533,"align":0.638},"axis":null},
 "text":{"field":"value"},
 "color":{"field":"variable","type":"nominal","scale":{"domain":["Age","GCS Field","Neurological Level","Motor Neuro Level","Change in AIS Motor Score","Pain, Activity","Pain, QOL","Pain, Sleep","PSFS","Discharge Anti-Spasticity Medication","Rehab"],"range":["#E2452F","#23948E","#5A2372","#D88B2F","#5F9B37","#2F97DB","#A3201F","#DDB632","#EE8CD6","#9A4AE2","#2DC8A2"]},"legend":null}}}
]
},
{
"width": 53, "height": 664,
"data": {"name": "tab"},
"layer": [
{"mark":{"type":"rect","stroke":"#DCDCDC","strokeWidth":1},
 "encoding":{"x":{"datum":0,"type":"quantitative","scale":{"domain":[0,1]},"axis":null},"x2":{"datum":1},
 "y":{"field":"idx","type":"ordinal","scale":{"type":"band","domain":[0,1,2,3,4,5,6,7,8,9,10,11,12,13],"paddingInner":0,"paddingOuter":0.533,"align":0.638},"axis":null},
 "fill":{"condition":[{"test":"datum.idx == 0","value":"#C4C4C4"},{"test":"datum.idx % 2 == 0 && datum.idx <= 10","value":"#EEEEEE"}],"value":"#FFFFFF"}}},
{"transform":[{"filter":"datum.idx == 1 || datum.idx == 12 || datum.idx == 13"}],"mark":{"type":"rule","color":"#A8A8A8","strokeWidth":1.5},
 "encoding":{"x":{"datum":0,"type":"quantitative","scale":{"domain":[0,1]},"axis":null},"x2":{"datum":1},
 "y":{"field":"idx","type":"ordinal","bandPosition":0,"scale":{"type":"band","domain":[0,1,2,3,4,5,6,7,8,9,10,11,12,13],"paddingInner":0,"paddingOuter":0.533,"align":0.638},"axis":null}}},
{"transform":[{"filter":"datum.idx == 0 || datum.idx >= 12"}],"mark":{"type":"text","align":"right","baseline":"middle","dx":-5,"fontSize":11.7,"fontWeight":"bold","color":"#111111"},
 "encoding":{"x":{"datum":1,"type":"quantitative","scale":{"domain":[0,1]},"axis":null},
 "y":{"field":"idx","type":"ordinal","scale":{"type":"band","domain":[0,1,2,3,4,5,6,7,8,9,10,11,12,13],"paddingInner":0,"paddingOuter":0.533,"align":0.638},"axis":null},
 "text":{"field":"points"}}},
{"transform":[{"filter":"datum.idx >= 1 && datum.idx <= 11"}],"mark":{"type":"text","align":"right","baseline":"middle","dx":-5,"fontSize":11.7},
 "encoding":{"x":{"datum":1,"type":"quantitative","scale":{"domain":[0,1]},"axis":null},
 "y":{"field":"idx","type":"ordinal","scale":{"type":"band","domain":[0,1,2,3,4,5,6,7,8,9,10,11,12,13],"paddingInner":0,"paddingOuter":0.533,"align":0.638},"axis":null},
 "text":{"field":"points"},
 "color":{"field":"variable","type":"nominal","scale":{"domain":["Age","GCS Field","Neurological Level","Motor Neuro Level","Change in AIS Motor Score","Pain, Activity","Pain, QOL","Pain, Sleep","PSFS","Discharge Anti-Spasticity Medication","Rehab"],"range":["#E2452F","#23948E","#5A2372","#D88B2F","#5F9B37","#2F97DB","#A3201F","#DDB632","#EE8CD6","#9A4AE2","#2DC8A2"]},"legend":null}}}
]
}
],
"spacing": 0,
"bounds": "flush"
}
]
}
